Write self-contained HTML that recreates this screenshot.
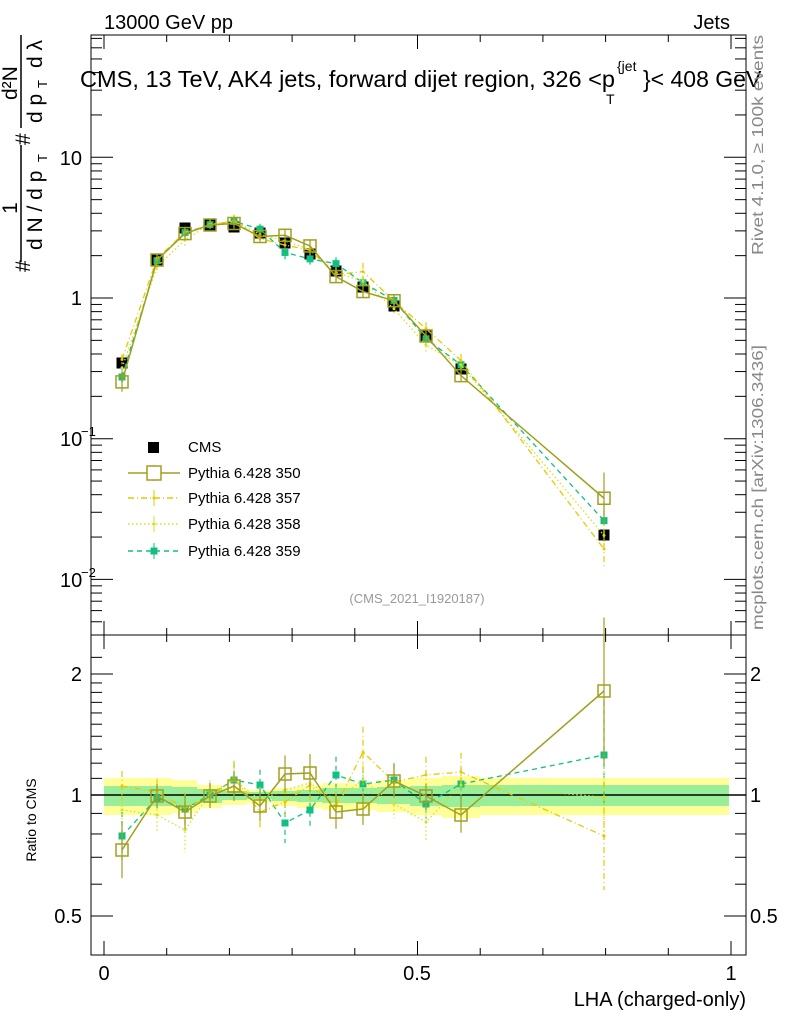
<!DOCTYPE html>
<html><head><meta charset="utf-8"><style>
body{margin:0;background:#fff;overflow:hidden;}
svg{font-family:"Liberation Sans",sans-serif;}
</style></head><body>
<svg id="s" width="786" height="1024" xmlns="http://www.w3.org/2000/svg">
<rect width="786" height="1024" fill="#fff"/>
<g id="bands"></g>
<g id="axes" stroke="#000" stroke-width="1" fill="none"></g>
<g id="data"></g>
<text x="104" y="29" font-size="20">13000 GeV pp</text>
<text x="730" y="29" font-size="20" text-anchor="end">Jets</text>
<text x="80" y="87" font-size="23" textLength="535" lengthAdjust="spacingAndGlyphs">CMS, 13 TeV, AK4 jets, forward dijet region, 326 &lt;p</text>
<text x="606" y="104" font-size="14">T</text>
<text x="617" y="71" font-size="14">{jet</text>
<text x="643" y="87" font-size="23">}&lt; 408 GeV</text>
<text x="417" y="603" font-size="13" fill="#999" text-anchor="middle">(CMS_2021_I1920187)</text>
<g font-size="20">
<text x="82" y="165" text-anchor="end">10</text>
<text x="82" y="305" text-anchor="end">1</text>
<text x="60" y="446">10</text><text x="81" y="436" font-size="13">−1</text>
<text x="60" y="587">10</text><text x="81" y="577" font-size="13">−2</text>
<text x="82" y="681" text-anchor="end">2</text>
<text x="82" y="802" text-anchor="end">1</text>
<text x="82" y="923" text-anchor="end">0.5</text>
<text x="750" y="681">2</text>
<text x="750" y="802">1</text>
<text x="750" y="923">0.5</text>
<text x="104" y="980" text-anchor="middle">0</text>
<text x="417" y="980" text-anchor="middle">0.5</text>
<text x="731" y="980" text-anchor="middle">1</text>
<text x="746" y="1006" text-anchor="end">LHA (charged-only)</text>
</g>
<text transform="translate(36,820) rotate(-90)" font-size="14" text-anchor="middle">Ratio to CMS</text>
<text transform="translate(763,630) rotate(-90)" font-size="16" fill="#888" textLength="285" lengthAdjust="spacingAndGlyphs">mcplots.cern.ch [arXiv:1306.3436]</text>
<text transform="translate(763,255) rotate(-90)" font-size="16" fill="#888" textLength="220" lengthAdjust="spacingAndGlyphs">Rivet 4.1.0, ≥ 100k events</text>
<g font-size="21">
<text transform="translate(30,272) rotate(-90)">#</text>
<line x1="21" y1="262" x2="21" y2="145" stroke="#000" stroke-width="1.5"/>
<text transform="translate(17,208) rotate(-90)" text-anchor="middle">1</text>
<text transform="translate(42,250) rotate(-90)">d N / d p</text>
<text transform="translate(47,162) rotate(-90)" font-size="13">T</text>
<text transform="translate(30,145) rotate(-90)">#</text>
<line x1="21" y1="128" x2="21" y2="35" stroke="#000" stroke-width="1.5"/>
<text transform="translate(17,100) rotate(-90)">d²N</text>
<text transform="translate(42,123) rotate(-90)">d p</text>
<text transform="translate(47,88) rotate(-90)" font-size="13">T</text>
<text transform="translate(42,68) rotate(-90)">d λ</text>
</g>
<g id="legend" font-size="15"></g>
</svg>
<script>
const NS="http://www.w3.org/2000/svg";
function el(p,t,a){const e=document.createElementNS(NS,t);for(const k in a)e.setAttribute(k,a[k]);p.appendChild(e);return e;}
const ax=document.getElementById('axes'),bd=document.getElementById('bands'),dt=document.getElementById('data'),lg=document.getElementById('legend');
el(ax,'rect',{x:91,y:35,width:655,height:600});
el(ax,'rect',{x:91,y:635,width:655,height:320});
const X=v=>104+627*v;
for(let i=0;i<=10;i++){const x=X(i/10);const L=i%5==0?14:7;
 [[635,-1],[955,-1],[635,1],[35,1]].forEach(([y,d])=>{el(ax,'line',{x1:x,y1:y,x2:x,y2:y+d*L});});}
const Ym=v=>298-140.7*Math.log10(v);
for(let e=-3;e<=2;e++)for(let m=1;m<10;m++){const v=m*Math.pow(10,e);const y=Ym(v);if(y<35||y>635)continue;const L=m==1?22:11;
 el(ax,'line',{x1:91,y1:y,x2:91+L,y2:y});el(ax,'line',{x1:746,y1:y,x2:746-L,y2:y});}
const Yr=r=>795-402*Math.log10(r);
[0.5,0.6,0.7,0.8,0.9,1,1.1,1.2,1.3,1.4,1.5,1.6,1.7,1.8,1.9,2,2.2].forEach(r=>{const y=Yr(r);if(y<635||y>955)return;const L=(r==0.5||r==1||r==2)?22:11;
 el(ax,'line',{x1:91,y1:y,x2:91+L,y2:y});el(ax,'line',{x1:746,y1:y,x2:746-L,y2:y});});
const xs=[122,157,185,210,234,260,285,310,336,363,394,426,461,604];
const edges=[104,140,172,197,222,247,272,297,322,349,377,410,442,480,729];
const yb=[[778,815],[778,815],[780,813],[785,808],[788,805],[790,803],[788,806],[786,808],[783,810],[783,810],[780,812],[778,815],[776,818],[778,815]];
const gb=[[786,806],[786,806],[787,805],[789,803],[791,800],[792,799],[791,801],[790,802],[788,803],[788,803],[787,804],[786,806],[785,807],[785,806]];
for(let i=0;i<14;i++){el(bd,'rect',{x:edges[i],y:yb[i][0],width:edges[i+1]-edges[i],height:yb[i][1]-yb[i][0],fill:'#ffff99'});}
for(let i=0;i<14;i++){el(bd,'rect',{x:edges[i],y:gb[i][0],width:edges[i+1]-edges[i],height:gb[i][1]-gb[i][0],fill:'#99ee99'});}
el(ax,'line',{x1:91,y1:795,x2:746,y2:795,'stroke-width':1.5});
const cms=[363,260,228,225,227,233,243,254,271,287,306,336,369,535];
const ser=[
 {c:'#a0a020',d:'',w:1.5,r:[850,796,812,796,786,806,774,773,812,809,781,796,815,691],m:'box'},
 {c:'#e8c800',d:'6 3 1 3',w:1.3,r:[786,792,808,797,778,812,802,785,806,752,782,775,772,836],m:'dot'},
 {c:'#d8e020',d:'1.5 2.5',w:1.3,r:[810,815,830,793,780,800,790,783,800,780,804,822,785,797],m:'dot'},
 {c:'#10c080',d:'5 4',w:1.3,r:[836,798,809,795,780,785,823,810,775,784,780,804,784,755],m:'sq'}];
function drawSeries(s,ymap,sc){
 const pts=xs.map((x,i)=>[x,ymap(i)]);
 el(dt,'polyline',{points:pts.map(p=>p.join(',')).join(' '),fill:'none',stroke:s.c,'stroke-width':s.w,'stroke-dasharray':s.d});
 pts.forEach((p,i)=>{const err=Math.abs(s.r[i]-796)*0.3+12+(i==13?30:0);
  el(dt,'line',{x1:p[0],y1:p[1]-err*sc,x2:p[0],y2:p[1]+err*sc,stroke:s.c,'stroke-width':1.2,'stroke-dasharray':s.d});
  if(s.m=='box')el(dt,'rect',{x:p[0]-6,y:p[1]-6,width:12,height:12,fill:'none',stroke:s.c,'stroke-width':1.5});
  else if(s.m=='sq')el(dt,'rect',{x:p[0]-3.5,y:p[1]-3.5,width:7,height:7,fill:s.c});
  else el(dt,'circle',{cx:p[0],cy:p[1],r:1.5,fill:s.c});});
}
xs.forEach((x,i)=>{el(dt,'rect',{x:x-5.5,y:cms[i]-5.5,width:11,height:11,fill:'#000'});});
[3,2,1,0].forEach(k=>{const s=ser[k];
 drawSeries(s,i=>cms[i]+0.35*(s.r[i]-796),0.35);
 drawSeries(s,i=>s.r[i],1);});
const L=[[447,'CMS'],[473,'Pythia 6.428 350'],[498,'Pythia 6.428 357'],[524,'Pythia 6.428 358'],[551,'Pythia 6.428 359']];
el(lg,'rect',{x:148,y:442,width:11,height:11,fill:'#000'});
L.forEach(([y,t],i)=>{const tx=el(lg,'text',{x:188,y:y+5});tx.textContent=t;
 if(i>0){const s=ser[i-1];el(lg,'line',{x1:128,y1:y,x2:180,y2:y,stroke:s.c,'stroke-width':1.4,'stroke-dasharray':s.d});
  el(lg,'line',{x1:154,y1:y-8,x2:154,y2:y+8,stroke:s.c,'stroke-width':1});
  if(s.m=='box')el(lg,'rect',{x:147,y:y-7,width:14,height:14,fill:'#fff',stroke:s.c,'stroke-width':1.5});
  else if(s.m=='sq')el(lg,'rect',{x:150.5,y:y-3.5,width:7,height:7,fill:s.c});
  else el(lg,'circle',{cx:154,cy:y,r:1.5,fill:s.c});}});
</script>
</body></html>
